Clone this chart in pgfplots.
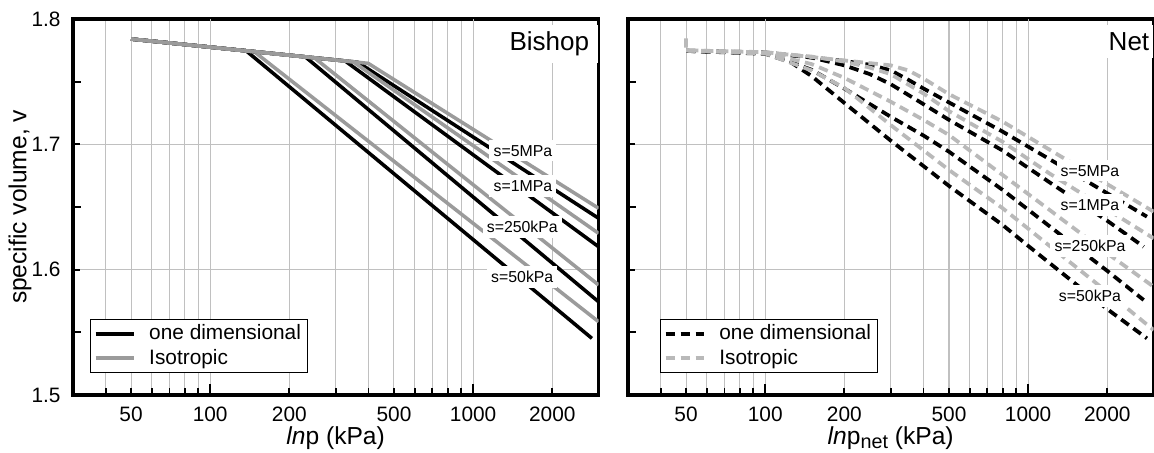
\documentclass[border=0pt]{standalone}
\usepackage{fontspec}
\setmainfont{Liberation Sans}
\usepackage{pgfplots}
\pgfplotsset{compat=1.18}
\definecolor{gridgray}{RGB}{192,192,192}
\definecolor{isogray}{RGB}{155,155,155}
\definecolor{netgray}{RGB}{185,185,185}
\pgfplotsset{
  mybase/.style={
    scale only axis, width=252.4pt, height=180.5pt,
    xmin=30, xmax=3000, ymin=1.5, ymax=1.8,
    axis line style={line width=1.8pt},
    tick pos=left, tick align=inside,
    xtick={40,50,60,70,80,90,100,200,300,400,500,600,700,800,900,1000,2000},
    xticklabels={,50,,,,,100,200,,,500,,,,,1000,2000},
    extra x ticks={100,1000}, extra x tick labels={},
    extra x tick style={major tick length=5.3pt},
    major tick length=3.6pt,
    ytick={1.5,1.6,1.7,1.8},
    minor ytick={1.55,1.65,1.75},
    minor tick length=3.8pt,
    xmajorgrids, ymajorgrids,
    major grid style={gridgray, line width=0.5pt},
    tick style={black, line width=0.9pt},
    ticklabel style={font=\fontsize{10}{12}\selectfont},
    xticklabel style={yshift=-2.3pt},
    yticklabel style={xshift=-2.3pt},
    xlabel style={at={(axis description cs:0.5,-0.1144)}, anchor=center, font=\fontsize{11.8}{14}\selectfont},
    ylabel style={at={(axis description cs:-0.1002,0.5)}, anchor=center, font=\fontsize{11.8}{14}\selectfont},
    legend cell align=left,
    legend style={anchor=south west, draw=black, line width=0.6pt,
      font=\fontsize{10}{12}\selectfont, inner xsep=1.5pt, inner ysep=1pt,
      nodes={inner sep=1.5pt}, column sep=5pt},
    legend image code/.code={\draw[##1] (0pt,0pt) -- (18.4pt,0pt);},
  },
}
\tikzset{
  bk/.style={black, line width=1.7pt, line join=round},
  gy/.style={isogray, line width=1.7pt, line join=round},
  nbk/.style={black, line width=1.8pt, dash pattern=on 4.5pt off 2.7pt},
  ngy/.style={netgray, line width=1.8pt, dash pattern=on 4.5pt off 2.7pt},
  slab/.style={fill=white, inner xsep=2pt, inner ysep=2.5pt, font=\fontsize{7.6}{9}\selectfont},
  ptitle/.style={fill=white, anchor=base east, inner ysep=3.5pt, font=\fontsize{12.5}{14}\selectfont},
}
\begin{document}
\begin{tikzpicture}
\path[use as bounding box] (-34.9pt,-27.36pt) rectangle (519.0pt,189.6pt);
% ---------------- Bishop ----------------
\begin{axis}[xmode=log, mybase, at={(0pt,0pt)}, anchor=south west,
  yticklabels={1.5,1.6,1.7,1.8},
  xlabel={\textit{ln}p (kPa)}, ylabel={specific volume, v},
  legend style={at={(0.033,0.058)}}]
\addplot[bk, mark=none] coordinates {(50,1.7840) (137,1.7746) (2830,1.5452)};
\addlegendentry{one dimensional}
\addplot[gy, mark=none] coordinates {(50,1.7840) (147,1.7739) (3000,1.5585)};
\addlegendentry{Isotropic}
\addplot[bk, mark=none, forget plot] coordinates {(50,1.7840) (230,1.7698) (3000,1.5744)};
\addplot[bk, mark=none, forget plot] coordinates {(50,1.7840) (326,1.7665) (3000,1.6183)};
\addplot[bk, mark=none, forget plot] coordinates {(50,1.7840) (364,1.7655) (3000,1.6410)};
\addplot[gy, mark=none, forget plot] coordinates {(50,1.7840) (249,1.7690) (3000,1.5878)};
\addplot[gy, mark=none, forget plot] coordinates {(50,1.7840) (350,1.7658) (3000,1.6290)};
\addplot[gy, mark=none, forget plot] coordinates {(50,1.7840) (399,1.7646) (3000,1.6490)};
\node[slab] at (axis cs:1546,1.6949) {s=5MPa};
\node[slab] at (axis cs:1546,1.6668) {s=1MPa};
\node[slab] at (axis cs:1538,1.6343) {s=250kPa};
\node[slab] at (axis cs:1538,1.5944) {s=50kPa};
\node[ptitle, inner xsep=4.3pt] at (rel axis cs:1,0.9157) {Bishop};
\end{axis}
% ---------------- Net ----------------
\begin{axis}[xmode=log, mybase, at={(266.4pt,0pt)}, anchor=south west,
  yticklabels={},
  xlabel={\textit{ln}p\raisebox{-0.35ex}{\fontsize{9.5}{11}\selectfont net} (kPa)},
  legend style={at={(0.0613,0.058)}}]
\addplot[nbk, mark=none] coordinates {(50,1.7745) (100,1.7722) (125,1.7655) (150,1.7545) (200,1.7330) (300,1.7030) (500,1.6668) (800,1.6356) (1000,1.6190) (1400,1.5944) (2000,1.5685) (2830,1.5452)};
\addlegendentry{one dimensional}
\addplot[nbk, mark=none, forget plot] coordinates {(50,1.7745) (100,1.7728) (150,1.7595) (200,1.7445) (300,1.7220) (400,1.7070) (500,1.6941) (800,1.6636) (1200,1.6350) (2000,1.5990) (2750,1.5758)};
\addplot[nbk, mark=none, forget plot] coordinates {(50,1.7745) (100,1.7731) (150,1.7692) (200,1.7630) (250,1.7560) (300,1.7480) (400,1.7320) (500,1.7195) (800,1.6950) (1200,1.6700) (2000,1.6390) (2750,1.6183)};
\addplot[nbk, mark=none, forget plot] coordinates {(50,1.7748) (100,1.7733) (200,1.7665) (250,1.7635) (300,1.7590) (350,1.7515) (400,1.7445) (500,1.7334) (800,1.7101) (1200,1.6884) (2000,1.6609) (2830,1.6423)};
\addplot[ngy, mark=none] coordinates {(50,1.7748) (100,1.7724) (150,1.7590) (200,1.7450) (300,1.7154) (500,1.6795) (800,1.6490) (1200,1.6194) (2000,1.5821) (3000,1.5519)};
\addlegendentry{Isotropic}
\addplot[ngy, mark=none, forget plot] coordinates {(50,1.7748) (100,1.7730) (150,1.7640) (200,1.7530) (300,1.7340) (400,1.7195) (500,1.7074) (800,1.6755) (1200,1.6480) (2000,1.6130) (3000,1.5864)};
\addplot[ngy, mark=none, forget plot] coordinates {(50,1.7750) (100,1.7733) (150,1.7700) (200,1.7660) (250,1.7612) (300,1.7560) (400,1.7405) (500,1.7265) (800,1.7020) (1200,1.6770) (2000,1.6480) (3000,1.6250)};
\addplot[ngy, mark=none, forget plot] coordinates {(50,1.7846) (50.02,1.7750) (100,1.7735) (200,1.7669) (300,1.7630) (350,1.7590) (400,1.7525) (500,1.7400) (650,1.7278) (800,1.7181) (1200,1.6960) (2000,1.6682) (3000,1.6463)};
\node[slab] at (axis cs:1719,1.6790) {s=5MPa};
\node[slab] at (axis cs:1719,1.6516) {s=1MPa};
\node[slab] at (axis cs:1719,1.6191) {s=250kPa};
\node[slab] at (axis cs:1719,1.5790) {s=50kPa};
\node[ptitle, inner xsep=1.9pt] at (rel axis cs:1,0.9157) {Net};
\end{axis}
\end{tikzpicture}
\end{document}
